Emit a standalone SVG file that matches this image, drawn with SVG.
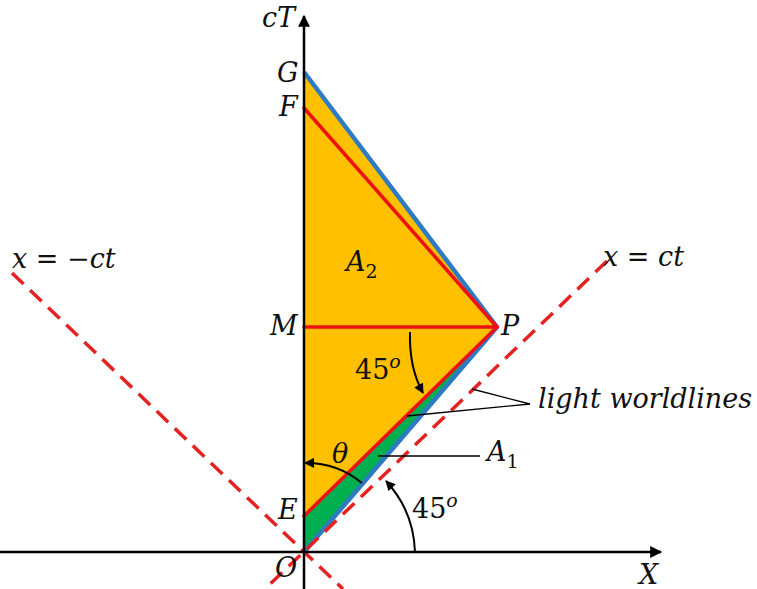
<svg xmlns="http://www.w3.org/2000/svg" width="757" height="589" viewBox="0 0 757 589">
<style>
.t{font-family:"DejaVu Serif","Liberation Serif",serif;font-style:italic;font-size:27px;fill:#111}
.n{font-style:normal}
.s{font-size:19px;font-style:normal}
.ax{stroke:#000;stroke-width:2.5;fill:none}
.dash{stroke:#e52222;stroke-width:3.5;stroke-dasharray:16 9;fill:none}
.red{stroke:#ee1111;stroke-width:3.5;fill:none;stroke-linecap:round}
.blue{stroke:#2e7bc4;stroke-width:4.5;fill:none;stroke-linejoin:round}
.thin{stroke:#000;stroke-width:1.3;fill:none}
.arc{stroke:#000;stroke-width:2;fill:none}
</style>
<defs>
<marker id="ah" viewBox="0 0 10 10" refX="9" refY="5" markerWidth="11" markerHeight="10" orient="auto" markerUnits="userSpaceOnUse">
<path d="M0,0 L10,5 L0,10 z" fill="#000"/>
</marker>
<marker id="axh" viewBox="0 0 10 10" refX="9" refY="5" markerWidth="13" markerHeight="12" orient="auto" markerUnits="userSpaceOnUse">
<path d="M0,0 L10,5 L0,10 z" fill="#000"/>
</marker>
</defs>
<g id="regions">
<polygon id="A2-region" points="304,72 497,327 304,516" fill="#ffc000"/>
<polygon id="A1-region" points="304,516 497,327 304,552" fill="#00b050"/>
</g>
<g id="connectors">
<polyline class="blue" points="304,72 497,327 304,552"/>
<line class="red" x1="304" y1="108" x2="497" y2="327"/>
<line class="red" x1="304" y1="327" x2="497" y2="327"/>
<line class="red" x1="304" y1="516" x2="497" y2="327"/>
<line class="dash" x1="607" y1="261" x2="266" y2="588"/>
<line class="dash" x1="12" y1="273" x2="343" y2="589"/>
<line class="ax" x1="304" y1="589" x2="304" y2="16" marker-end="url(#axh)"/>
<line class="ax" x1="0" y1="552" x2="661" y2="552" marker-end="url(#axh)"/>
<path class="arc" d="M410,332 Q409,368 423,393" marker-end="url(#ah)"/>
<path class="arc" d="M362,483 A88,88 0 0 0 305,463" marker-end="url(#ah)"/>
<path class="arc" d="M415,552 A110,110 0 0 0 386,481" marker-end="url(#ah)"/>
<polyline class="thin" points="472,389 530,404 407,416"/>
<line class="thin" x1="378" y1="456" x2="480" y2="456"/>
</g>
<g id="labels">
<text class="t" x="262" y="27">cT</text>
<text class="t" x="277" y="82">G</text>
<text class="t" x="279" y="116">F</text>
<text class="t" x="270" y="335">M</text>
<text class="t" x="501" y="335">P</text>
<text class="t" x="278" y="519">E</text>
<text class="t" x="275" y="577">O</text>
<text class="t" x="639" y="584">X</text>
<text class="t" x="346" y="271">A<tspan class="s" dy="7">2</tspan></text>
<text class="t" x="355" y="379"><tspan class="n">45</tspan><tspan font-size="19" dy="-11">o</tspan></text>
<text class="t" x="332" y="463">θ</text>
<text class="t" x="487" y="461">A<tspan class="s" dy="7">1</tspan></text>
<text class="t" x="412" y="518"><tspan class="n">45</tspan><tspan font-size="19" dy="-11">o</tspan></text>
<text class="t" x="538" y="408">light worldlines</text>
<text class="t" x="12" y="268">x = −ct</text>
<text class="t" x="603" y="266">x = ct</text>
</g>
</svg>
